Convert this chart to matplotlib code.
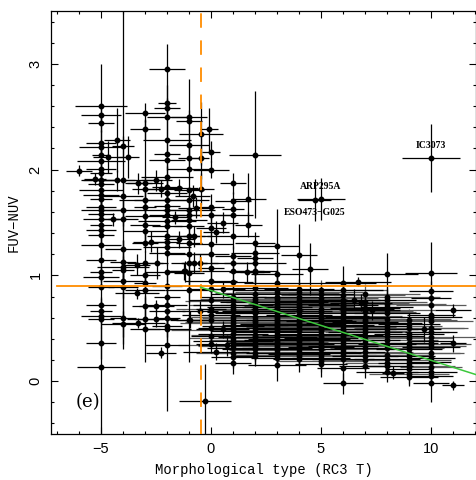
import numpy as np
import matplotlib
matplotlib.use('Agg')
import matplotlib.pyplot as plt
from matplotlib.ticker import MultipleLocator

# RC3 T types that hold a column of galaxies
types = [-5, -4, -3, -2, -1, 0, 1, 2, 3, 4, 5, 6, 7, 8, 9, 10, 11]

# FUV-NUV colour of the galaxies in each column
colour_by_type = [
    [2.60, 2.52, 2.44, 2.25, 2.21, 2.14, 2.08, 2.01, 1.97, 1.90, 1.86, 1.81, 1.76, 1.72, 1.65, 1.62,
     1.58, 1.53, 1.48, 1.43, 1.38, 1.29, 1.15, 1.03, 0.98, 0.89, 0.72, 0.66, 0.62, 0.59, 0.36, 0.13],
    [2.22, 1.90, 1.75, 1.62, 1.53, 1.25, 1.13, 1.08, 1.05, 0.95, 0.89, 0.60, 0.54],
    [2.54, 2.38, 1.87, 1.82, 1.71, 1.65, 1.56, 1.48, 1.42, 1.31, 1.12, 1.00, 0.93, 0.86, 0.71, 0.59, 0.49],
    [2.95, 2.63, 2.58, 2.50, 2.28, 2.15, 2.09, 1.93, 1.84, 1.78, 1.71, 1.66, 1.62, 1.57, 1.51,
     1.47, 1.37, 1.32, 1.27, 1.21, 1.03, 0.90, 0.80, 0.72, 0.66, 0.60, 0.52, 0.49, 0.34],
    [2.50, 2.46, 2.23, 2.11, 2.01, 1.81, 1.71, 1.62, 1.57, 1.52, 1.47, 1.37, 1.31, 1.20, 1.12, 1.02, 0.86, 0.58],
    [2.17, 2.00, 1.65, 1.57, 1.45, 1.30, 1.20, 1.07, 0.95, 0.87, 0.77, 0.68, 0.63, 0.58, 0.50, 0.43, 0.35],
    [1.87, 1.70, 1.63, 1.57, 1.37, 1.18, 1.12, 1.04, 0.94, 0.80, 0.72, 0.65, 0.58, 0.52, 0.45, 0.38, 0.31, 0.23, 0.17],
    [2.14, 1.31, 1.21, 1.16, 1.12, 1.04, 1.03, 0.88, 0.82, 0.75, 0.70, 0.64, 0.58, 0.53, 0.47, 0.42, 0.36, 0.30, 0.24],
    [1.28, 1.01, 0.93, 0.86, 0.80, 0.75, 0.70, 0.66, 0.62, 0.58, 0.54, 0.50, 0.46, 0.42, 0.39, 0.35, 0.31, 0.27, 0.22, 0.15],
    [1.19, 0.87, 0.80, 0.73, 0.68, 0.63, 0.58, 0.54, 0.49, 0.44, 0.40, 0.35, 0.30, 0.26, 0.21],
    [0.82, 0.76, 0.68, 0.62, 0.57, 0.53, 0.49, 0.45, 0.41, 0.36, 0.32, 0.27, 0.22, 0.16],
    [0.93, 0.86, 0.77, 0.72, 0.68, 0.64, 0.60, 0.55, 0.49, 0.44, 0.39, 0.33, 0.28, 0.21, 0.12, -0.02],
    [0.69, 0.61, 0.56, 0.52, 0.46, 0.39, 0.31, 0.24, 0.14],
    [1.01, 0.77, 0.70, 0.64, 0.55, 0.49, 0.43, 0.35, 0.21, 0.14, 0.09],
    [0.54, 0.45, 0.36, 0.30, 0.24, 0.17, 0.11, 0.04],
    [1.02, 0.85, 0.79, 0.63, 0.61, 0.46, 0.38, 0.32, 0.22, 0.18, 0.09, 0.05, -0.02],
    [0.67, 0.36, -0.04],
]

# uncertainty on the type
type_err_by_type = [
    [1.2, 0.9, 0.6, 0.7, 1.0, 0.4, 1.1, 0.7, 0.5, 0.9, 0.6, 1.0, 0.8, 0.5, 0.7, 0.9,
     0.6, 0.8, 0.5, 0.7, 0.6, 0.9, 0.7, 0.5, 0.8, 0.6, 0.7, 0.5, 0.9, 0.6, 0.7, 1.1],
    [0.5, 1.8, 0.9, 1.0, 0.7, 0.8, 0.6, 1.2, 0.5, 0.9, 0.7, 0.6, 1.0],
    [0.9, 0.7, 0.8, 0.6, 1.2, 0.5, 0.9, 0.7, 1.0, 0.6, 0.8, 0.7, 0.5, 0.9, 0.6, 0.8, 0.7],
    [0.8, 0.4, 0.6, 0.9, 1.1, 0.6, 0.8, 1.2, 0.7, 0.9, 1.5, 0.6, 1.0, 0.8, 1.3,
     0.7, 0.9, 0.6, 1.1, 0.8, 1.0, 0.7, 0.6, 0.9, 0.8, 0.6, 0.7, 1.1, 1.0],
    [0.8, 0.6, 0.9, 0.5, 1.0, 0.7, 0.9, 1.2, 0.6, 0.8, 0.7, 1.0, 0.6, 0.9, 0.8, 0.7, 1.1, 0.6],
    [0.4, 0.8, 0.6, 0.9, 0.7, 1.0, 0.8, 0.6, 1.2, 0.9, 1.0, 0.7, 1.3, 0.8, 0.6, 0.9, 0.7],
    [0.6, 0.8, 0.5, 0.9, 1.2, 0.8, 1.0, 1.4, 0.9, 1.5, 1.8, 1.2, 2.0, 1.4, 1.6, 1.8, 1.2, 1.0, 0.8],
    [1.2, 0.9, 1.1, 0.8, 1.4, 1.0, 0.7, 1.5, 2.0, 1.6, 2.2, 1.8, 2.4, 1.5, 2.0, 1.7, 1.3, 1.5, 1.1],
    [1.0, 1.2, 1.5, 2.0, 1.8, 2.3, 1.6, 2.5, 1.9, 2.2, 1.7, 2.4, 2.0, 1.8, 1.5, 2.1, 1.6, 1.4, 1.2, 1.3],
    [0.8, 1.6, 2.0, 1.8, 2.2, 1.5, 2.4, 1.9, 2.1, 1.7, 2.3, 1.6, 1.9, 1.4, 1.2],
    [1.5, 2.0, 1.8, 2.2, 1.6, 2.4, 1.9, 2.1, 1.7, 2.0, 1.5, 1.8, 1.3, 1.2],
    [1.5, 1.8, 2.0, 1.6, 2.3, 1.9, 2.1, 1.7, 2.4, 1.8, 2.0, 1.6, 1.9, 1.4, 1.2, 0.9],
    [1.6, 1.8, 1.5, 1.9, 1.7, 1.6, 1.4, 1.5, 1.2],
    [1.4, 1.3, 1.2, 1.5, 1.6, 1.4, 1.7, 1.3, 1.5, 1.2, 1.4],
    [1.4, 1.6, 1.3, 1.5, 1.2, 1.4, 1.1, 1.3],
    [1.2, 1.0, 0.9, 1.1, 1.4, 1.2, 1.0, 1.3, 1.1, 0.9, 1.2, 1.0, 0.8],
    [0.8, 0.6, 0.5],
]

# uncertainty on FUV-NUV
colour_err_by_type = [
    [0.40, 0.10, 0.08, 0.12, 0.06, 0.10, 0.15, 0.08, 0.12, 0.10, 0.07, 0.14, 0.09, 0.11, 0.08, 0.13,
     0.06, 0.10, 0.09, 0.12, 0.08, 0.11, 0.14, 0.09, 0.10, 0.12, 0.08, 0.10, 0.07, 0.09, 0.15, 0.65],
    [0.10, 1.60, 0.12, 0.15, 0.10, 0.08, 0.20, 0.10, 0.12, 0.07, 0.10, 0.25, 0.12],
    [0.09, 0.10, 0.60, 0.12, 0.10, 0.08, 0.14, 0.10, 0.12, 0.09, 0.11, 0.10, 0.08, 0.12, 0.10, 0.09, 0.31],
    [0.24, 0.08, 0.10, 0.12, 0.10, 0.65, 0.09, 0.10, 0.12, 0.08, 0.10, 0.14, 0.09, 0.11, 0.08,
     0.10, 0.12, 0.09, 0.10, 0.11, 0.08, 0.12, 0.10, 0.09, 0.11, 0.08, 0.10, 0.12, 0.62],
    [0.36, 0.10, 0.12, 0.09, 0.10, 0.12, 0.08, 0.10, 0.11, 0.09, 0.12, 0.10, 0.08, 0.11, 0.09, 0.10, 0.12, 0.40],
    [0.10, 0.08, 0.12, 0.10, 0.09, 0.11, 0.10, 0.12, 0.09, 0.10, 0.08, 0.11, 0.10, 0.09, 0.12, 0.10, 0.08],
    [0.10, 0.09, 0.08, 0.10, 0.12, 0.10, 0.09, 0.11, 0.10, 0.12, 0.09, 0.10, 0.11, 0.09, 0.12, 0.10, 0.08, 0.11, 0.10],
    [0.60, 0.10, 0.12, 0.09, 0.10, 0.11, 0.09, 0.10, 0.12, 0.09, 0.10, 0.11, 0.08, 0.10, 0.12, 0.09, 0.10, 0.11, 0.10],
    [0.35, 0.10, 0.12, 0.09, 0.10, 0.11, 0.09, 0.10, 0.12, 0.08, 0.10, 0.11, 0.09, 0.10, 0.12, 0.09, 0.10, 0.11, 0.10, 0.15],
    [0.30, 0.10, 0.12, 0.09, 0.10, 0.11, 0.09, 0.10, 0.12, 0.08, 0.10, 0.11, 0.09, 0.10, 0.12],
    [0.10, 0.12, 0.09, 0.10, 0.11, 0.09, 0.10, 0.12, 0.08, 0.10, 0.11, 0.09, 0.10, 0.12],
    [0.16, 0.10, 0.12, 0.09, 0.10, 0.11, 0.09, 0.10, 0.12, 0.08, 0.10, 0.11, 0.09, 0.10, 0.12, 0.10],
    [0.12, 0.10, 0.11, 0.09, 0.10, 0.12, 0.08, 0.10, 0.11],
    [0.20, 0.10, 0.08, 0.11, 0.10, 0.09, 0.12, 0.10, 0.11, 0.09, 0.10],
    [0.10, 0.09, 0.11, 0.10, 0.08, 0.12, 0.10, 0.09],
    [0.30, 0.10, 0.08, 0.12, 0.09, 0.10, 0.11, 0.09, 0.10, 0.12, 0.10, 0.09, 0.18],
    [0.06, 0.08, 0.04],
]

# second sample (grey bars): late types with broad type uncertainty
dense_types = [1, 2, 3, 4, 5, 6, 7, 8, 9, 10]
dense_colour_by_type = [
    [0.76, 0.68, 0.61, 0.55, 0.48, 0.41, 0.34, 0.27],
    [0.78, 0.72, 0.67, 0.61, 0.56, 0.50, 0.44, 0.39, 0.33, 0.27],
    [0.83, 0.78, 0.72, 0.68, 0.64, 0.60, 0.56, 0.52, 0.48, 0.44, 0.37, 0.33, 0.29, 0.25],
    [0.84, 0.77, 0.71, 0.66, 0.61, 0.56, 0.52, 0.47, 0.42, 0.38, 0.33, 0.28, 0.24],
    [0.86, 0.79, 0.73, 0.65, 0.60, 0.55, 0.51, 0.47, 0.43, 0.39, 0.34, 0.30, 0.25, 0.19],
    [0.81, 0.74, 0.70, 0.66, 0.62, 0.57, 0.52, 0.47, 0.42, 0.36, 0.30, 0.25],
    [0.82, 0.75, 0.65, 0.58, 0.49, 0.43, 0.36, 0.28, 0.20],
    [0.80, 0.73, 0.67, 0.59, 0.52, 0.46, 0.39, 0.31, 0.25, 0.17],
    [0.58, 0.50, 0.41, 0.33, 0.27, 0.20, 0.14, 0.07],
    [0.72, 0.57, 0.50, 0.42, 0.35, 0.27, 0.13],
]
dense_type_err_by_type = [
    [2.2, 2.6, 1.9, 2.4, 2.8, 2.0, 2.5, 1.7],
    [2.5, 3.0, 2.2, 2.8, 3.2, 2.4, 2.9, 2.1, 2.6, 2.0],
    [2.8, 3.2, 2.6, 3.0, 2.4, 3.4, 2.7, 3.1, 2.5, 2.9, 2.3, 2.8, 2.2, 2.0],
    [2.9, 3.3, 2.5, 3.1, 2.7, 3.4, 2.6, 3.0, 2.4, 2.8, 2.3, 2.6, 2.1],
    [3.0, 2.6, 3.3, 2.8, 3.1, 2.5, 3.4, 2.7, 3.0, 2.4, 2.8, 2.2, 2.5, 2.0],
    [2.8, 3.0, 2.5, 3.2, 2.7, 2.9, 2.4, 3.1, 2.6, 2.8, 2.3, 2.1],
    [2.5, 2.8, 2.3, 2.6, 2.9, 2.4, 2.7, 2.2, 2.0],
    [2.4, 2.7, 2.2, 2.9, 2.5, 2.8, 2.3, 2.6, 2.1, 1.9],
    [2.2, 2.5, 2.0, 2.6, 2.3, 1.9, 2.1, 1.8],
    [1.6, 1.9, 1.7, 2.0, 1.8, 1.5, 1.4],
]
dense_colour_err_by_type = [
    [0.08, 0.10, 0.09, 0.11, 0.10, 0.08, 0.12, 0.09],
    [0.09, 0.10, 0.08, 0.11, 0.10, 0.09, 0.12, 0.10, 0.08, 0.11],
    [0.10, 0.09, 0.11, 0.08, 0.10, 0.12, 0.09, 0.10, 0.11, 0.08, 0.10, 0.09, 0.12, 0.10],
    [0.09, 0.11, 0.10, 0.08, 0.12, 0.09, 0.10, 0.11, 0.08, 0.10, 0.09, 0.12, 0.10],
    [0.10, 0.08, 0.11, 0.09, 0.10, 0.12, 0.08, 0.10, 0.11, 0.09, 0.10, 0.08, 0.12, 0.10],
    [0.09, 0.10, 0.11, 0.08, 0.10, 0.12, 0.09, 0.10, 0.11, 0.08, 0.10, 0.09],
    [0.10, 0.09, 0.11, 0.08, 0.10, 0.12, 0.09, 0.10, 0.11],
    [0.09, 0.10, 0.11, 0.08, 0.10, 0.12, 0.09, 0.10, 0.11, 0.08],
    [0.10, 0.09, 0.11, 0.08, 0.10, 0.12, 0.09, 0.10],
    [0.09, 0.10, 0.11, 0.08, 0.10, 0.12, 0.09],
]

# galaxies with averaged (non-integer) types
extra_type = [-6.00, -5.27, -4.67, -4.27, -4.27, -3.79, -4.47, -3.30, -2.49, -2.27,
              -1.47, -1.64, -3.30, -2.49, -2.49, -2.27, -2.45, -3.36, -2.73, -1.44,
              -3.38, -1.21, -0.27, -0.95, -0.47, -0.08, -0.47, -0.47, 1.70, 0.53,
              1.70, -0.68, -0.76, 0.23, -0.50, -0.77, -1.18, 1.62, 0.53, 0.23,
              0.71, 0.53, -0.50, 4.50, -0.83, 6.70, 6.50, 6.82, 7.30, 8.29, 9.68]
extra_colour = [1.99, 1.91, 2.12, 2.28, 1.90, 2.12, 1.53, 1.87, 1.90, 1.82,
                1.83, 1.55, 0.55, 0.59, 0.71, 0.27, 1.12, 1.10, 1.32, 1.34,
                0.83, 1.04, -0.19, 0.58, 2.34, 2.38, 2.11, 1.82, 1.72, 1.50,
                1.48, 1.64, 1.37, 1.41, 1.12, 1.12, 1.04, 1.03, 0.87, 0.28,
                0.34, 0.49, 0.66, 1.06, 1.75, 0.94, 0.77, 0.74, 0.67, 0.08, 0.49]
extra_type_err = [0.6, 0.5, 0.7, 0.6, 0.8, 0.5, 0.5, 0.6, 0.7, 0.8,
                  0.9, 0.6, 1.2, 1.0, 0.8, 0.7, 0.5, 0.6, 0.8, 0.7,
                  1.0, 0.8, 1.2, 0.9, 1.0, 0.4, 0.4, 0.6, 0.8, 0.7,
                  0.6, 0.8, 0.5, 0.6, 0.8, 0.6, 0.7, 0.8, 1.0, 1.5,
                  1.3, 1.2, 0.8, 0.8, 0.8, 1.5, 1.2, 1.4, 1.3, 0.5, 0.8]
extra_colour_err = [0.05, 0.06, 0.15, 0.30, 0.10, 0.20, 0.06, 0.10, 0.10, 0.08,
                    0.08, 0.06, 0.05, 0.08, 0.06, 0.05, 0.15, 0.10, 0.10, 0.08,
                    0.05, 0.08, 0.35, 0.08, 0.30, 0.20, 0.20, 0.15, 0.25, 0.10,
                    0.12, 0.10, 0.10, 0.10, 0.08, 0.10, 0.10, 0.10, 0.08, 0.08,
                    0.10, 0.08, 0.10, 0.25, 0.10, 0.04, 0.10, 0.08, 0.09, 0.06, 0.12]

# labelled outliers
named = ['IC3073', 'ARP295A', 'ESO473\u2212G025']
named_type = [10.0, 5.0, 4.71]
named_colour = [2.11, 1.72, 1.71]
named_type_err = [1.3, 1.1, 0.75]
named_colour_err = [0.32, 0.20, 0.20]
named_offset = [9, 9, -9]   # label above / below the point (points)

# cuts and linear fit for late types
type_cut = -0.47
colour_cut = 0.90
fit_a, fit_b = 0.857, -0.066

t = np.concatenate([[ty] * len(c) for ty, c in zip(types, colour_by_type)] + [extra_type, named_type])
c = np.concatenate(colour_by_type + [extra_colour, named_colour])
te = np.concatenate(type_err_by_type + [extra_type_err, named_type_err])
ce = np.concatenate(colour_err_by_type + [extra_colour_err, named_colour_err])

td = np.concatenate([[ty] * len(v) for ty, v in zip(dense_types, dense_colour_by_type)])
cd = np.concatenate(dense_colour_by_type)
ted = np.concatenate(dense_type_err_by_type)
ced = np.concatenate(dense_colour_err_by_type)

fig = plt.figure(figsize=(4.77, 4.80), dpi=100)
ax = fig.add_axes([51/477, 46/480, 425/477, 423/480])

ax.errorbar(td, cd, xerr=ted, yerr=ced, fmt='o', color='black', ms=3.2,
            ecolor='#5a5a5a', elinewidth=0.9, capsize=0, zorder=1)
ax.errorbar(t, c, xerr=te, yerr=ce, fmt='o', color='black', ms=3.2,
            ecolor='black', elinewidth=0.9, capsize=0, zorder=2)

ax.axvline(type_cut, color='#ff8c00', lw=1.3, ls=(0, (8, 7)), zorder=3)
ax.plot([-7.0, 12.05], [colour_cut, colour_cut], color='#ff8c00', lw=1.3, zorder=3)
xf = np.array([type_cut, 12.05])
ax.plot(xf, fit_a + fit_b * xf, color='#3cc83c', lw=1.1, zorder=4)

for name, x, y, off in zip(named, named_type, named_colour, named_offset):
    ax.annotate(name, (x, y), xytext=(0, off), textcoords='offset points',
                ha='center', va='center', fontsize=7, fontweight='bold',
                family='Liberation Serif')

ax.text(-5.57, -0.2, '(e)', fontsize=13, family='DejaVu Serif', ha='center', va='center')

ax.set_xlim(-7.27, 12.05)
ax.set_ylim(-0.5, 3.5)
ax.xaxis.set_major_locator(MultipleLocator(5))
ax.xaxis.set_minor_locator(MultipleLocator(1))
ax.yaxis.set_major_locator(MultipleLocator(1))
ax.yaxis.set_minor_locator(MultipleLocator(0.2))
ax.tick_params(which='both', direction='in', top=True, right=True, width=0.8)
ax.tick_params(which='major', length=5, pad=6)
ax.tick_params(which='minor', length=2.5)
for lab in ax.get_xticklabels() + ax.get_yticklabels():
    lab.set_family('Liberation Sans')
    lab.set_fontsize(10.5)
for lab in ax.get_yticklabels():
    lab.set_rotation(90)
    lab.set_va('center')
for s in ax.spines.values():
    s.set_linewidth(0.9)

ax.set_xlabel('Morphological type (RC3 T)', family='Liberation Mono', fontsize=10, labelpad=5)
ax.set_ylabel('FUV\u2212NUV', family='Liberation Mono', fontsize=10, labelpad=6)

fig.savefig('out.png', dpi=100)
